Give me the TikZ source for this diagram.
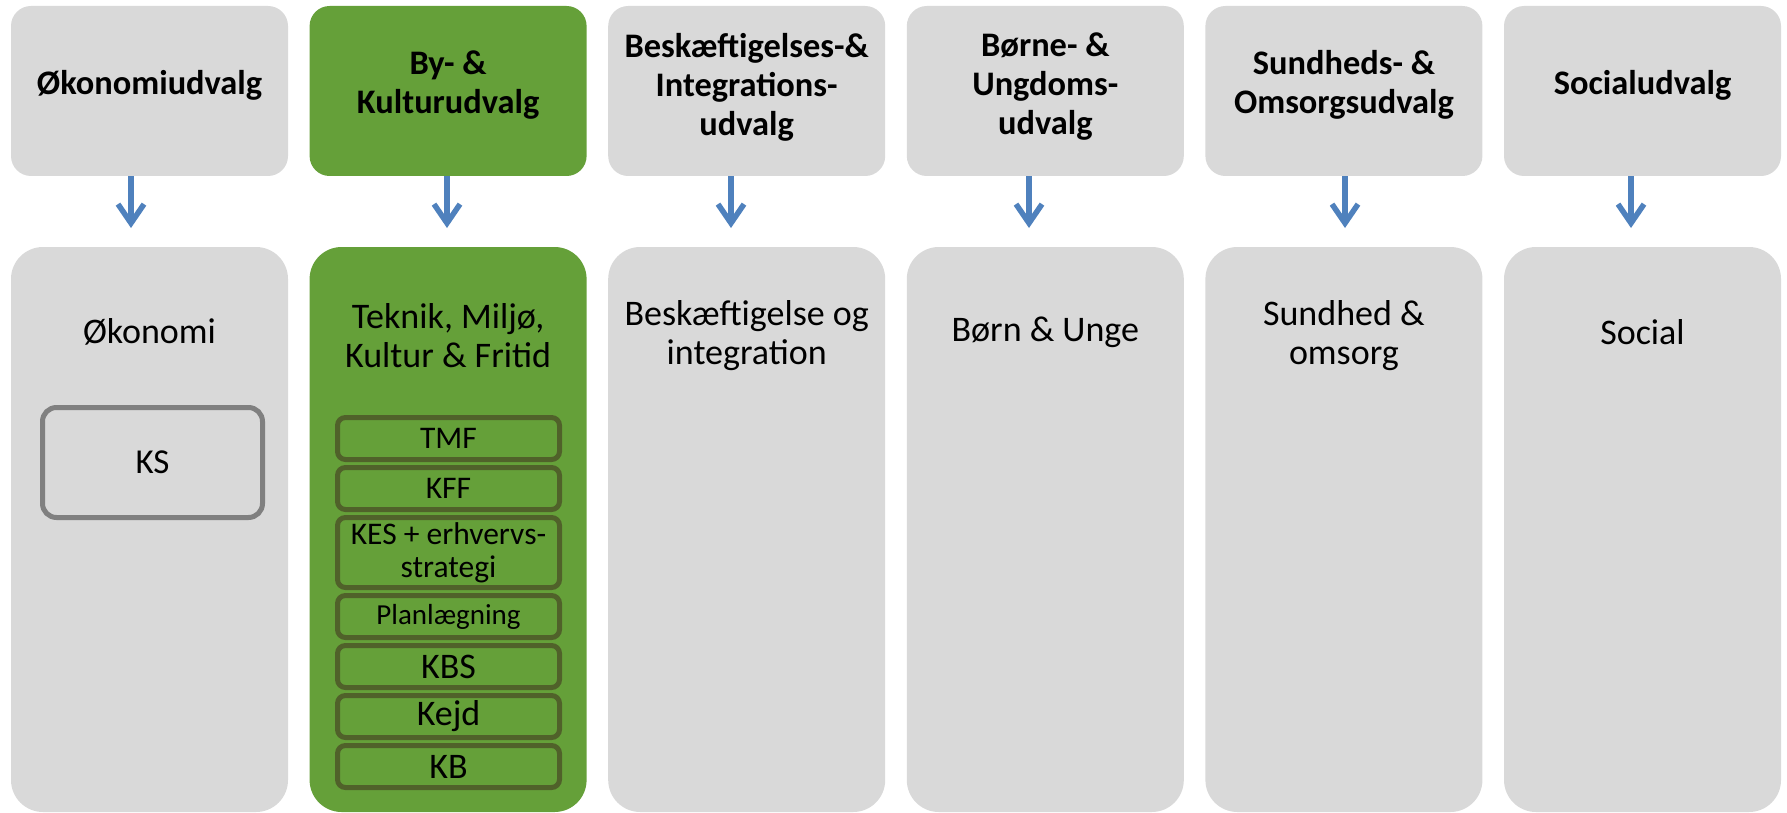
\documentclass[tikz,border=0pt]{standalone}
\usepackage{fontspec}
\setmainfont{Carlito}
\usetikzlibrary{arrows.meta}
\definecolor{boxgray}{RGB}{217,217,217}
\definecolor{boxgreen}{RGB}{101,160,57}
\definecolor{subborder}{RGB}{80,97,42}
\definecolor{ksborder}{RGB}{128,128,128}
\definecolor{arrblue}{RGB}{79,129,189}
\tikzset{
  topbox/.style={fill=boxgray, draw=none, rounded corners=20pt, minimum width=277pt, minimum height=170pt, inner sep=0pt},
  botbox/.style={fill=boxgray, draw=none, rounded corners=32pt, minimum width=277pt, minimum height=565pt, inner sep=0pt},
  greenfill/.style={fill=boxgreen},
  toptext/.style={align=center, font=\fontsize{34.4}{39}\selectfont\bfseries, inner sep=0pt},
  bottext/.style={align=center, font=\fontsize{36}{39}\selectfont, inner sep=0pt},
  subbox/.style={draw=subborder, line width=5pt, fill=boxgreen, rounded corners=8pt, minimum width=222pt, minimum height=42pt, inner sep=0pt, align=center},
  ksbox/.style={draw=ksborder, line width=5pt, fill=boxgray, rounded corners=14pt, minimum width=220pt, minimum height=110pt, inner sep=0pt, font=\fontsize{35}{40}\selectfont},
  arr/.style={draw=arrblue, line width=5.5pt, -{Straight Barb[length=19pt, width=26pt]}}
}
\begin{document}
\begin{tikzpicture}[x=1pt, y=-1pt]
\useasboundingbox (0,0) rectangle (1787,813);
% top boxes
\node[topbox] (t1) at (149.5,91) {};
\node[topbox, greenfill] (t2) at (448.1,91) {};
\node[topbox] (t3) at (746.7,91) {};
\node[topbox] (t4) at (1045.3,91) {};
\node[topbox] (t5) at (1343.9,91) {};
\node[topbox] (t6) at (1642.5,91) {};
% bottom boxes
\node[botbox] (b1) at (149.5,529.5) {};
\node[botbox, greenfill] (b2) at (448.1,529.5) {};
\node[botbox] (b3) at (746.7,529.5) {};
\node[botbox] (b4) at (1045.3,529.5) {};
\node[botbox] (b5) at (1343.9,529.5) {};
\node[botbox] (b6) at (1642.5,529.5) {};
% top texts
\node[toptext] (tt1) at (149.5,85) {Økonomiudvalg};
\node[toptext] (tt2) at (448.1,85) {By- \&\\Kulturudvalg};
\node[toptext] (tt3) at (746.7,87) {Beskæftigelses-\&\\Integrations-\\udvalg};
\node[toptext] (tt4) at (1045.3,87) {Børne- \&\\Ungdoms-\\udvalg};
\node[toptext] (tt5) at (1343.9,85) {Sundheds- \&\\Omsorgsudvalg};
\node[toptext] (tt6) at (1642.5,85) {Socialudvalg};
% bottom texts
\node[bottext] (bt1) at (149.5,332) {Økonomi};
\node[bottext] (bt2) at (448.1,336) {Teknik, Miljø,\\Kultur \& Fritid};
\node[bottext] (bt3) at (746.7,336) {Beskæftigelse og\\integration};
\node[bottext] (bt4) at (1045.3,332) {Børn \& Unge};
\node[bottext] (bt5) at (1343.9,336) {Sundhed \&\\omsorg};
\node[bottext] (bt6) at (1642.5,332) {Social};
% KS box
\node[ksbox] (ks) at (152.5,462.5) {KS};
% sub boxes in green column
\node[subbox, font=\fontsize{31.5}{33}\selectfont] (s1) at (448.5,438.5) {TMF};
\node[subbox, font=\fontsize{31.5}{33}\selectfont] (s2) at (448.5,488.5) {KFF};
\node[subbox, minimum height=70pt, font=\fontsize{31.5}{33}\selectfont] (s3) at (448.5,552.5) {KES + erhvervs-\\strategi};
\node[subbox, font=\fontsize{29}{33}\selectfont] (s4) at (448.5,616.5) {Planlægning};
\node[subbox, font=\fontsize{36}{40}\selectfont] (s5) at (448.5,666.5) {KBS};
\node[subbox, font=\fontsize{36}{40}\selectfont] (s6) at (448.5,716.5) {Kejd};
\node[subbox, font=\fontsize{36}{40}\selectfont] (s7) at (448.5,766.5) {KB};
% arrows
\coordinate (a1) at (131,228);
\coordinate (a2) at (447,228);
\coordinate (a3) at (731,228);
\coordinate (a4) at (1029,228);
\coordinate (a5) at (1345,228);
\coordinate (a6) at (1631,228);
\draw[arr] (t1.south -| a1) -- (a1);
\draw[arr] (t2.south -| a2) -- (a2);
\draw[arr] (t3.south -| a3) -- (a3);
\draw[arr] (t4.south -| a4) -- (a4);
\draw[arr] (t5.south -| a5) -- (a5);
\draw[arr] (t6.south -| a6) -- (a6);
\end{tikzpicture}
\end{document}
